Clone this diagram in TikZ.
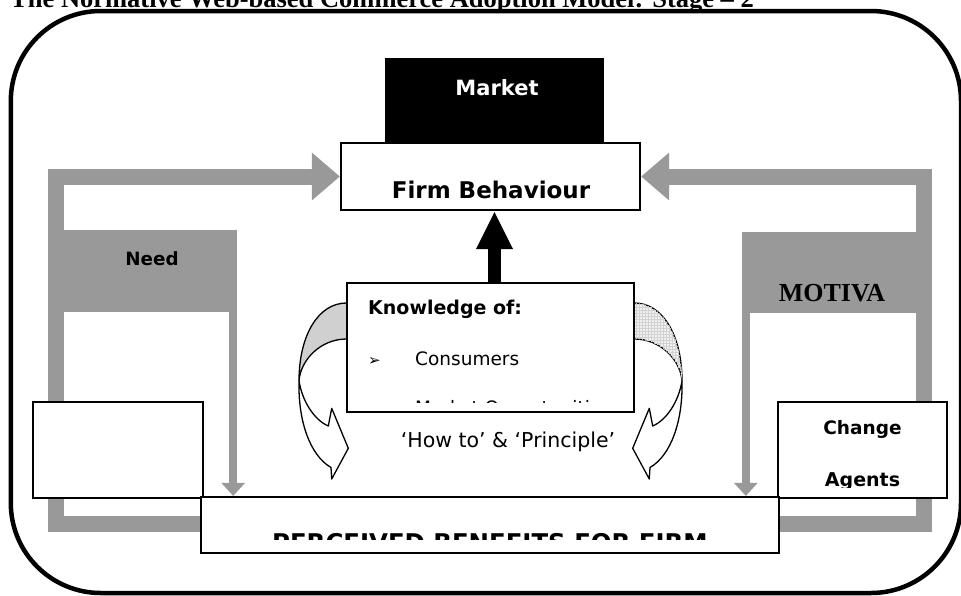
\documentclass[tikz,border=0pt]{standalone}
\usepackage{fontspec}
\setmainfont{DejaVu Sans}
\newfontfamily\titlefont{Liberation Serif}
\usetikzlibrary{arrows.meta,patterns,backgrounds}
\newcommand\pxsize[1]{\fontsize{#1}{#1}\selectfont}
\definecolor{bargray}{RGB}{153,153,153}
\definecolor{backgray}{RGB}{208,208,208}

\begin{document}
\begin{tikzpicture}[x=1pt, y=-1pt,
    box/.style={draw, line width=2.2pt, fill=white, inner sep=0pt},
    graybox/.style={fill=bargray, inner sep=0pt},
    bigbar/.style={draw=bargray, line width=16pt, -{Triangle[length=28pt,width=46pt]}},
    thinbar/.style={draw=bargray, line width=8pt, -{Triangle[length=13pt,width=23pt]}},
    blackarrow/.style={draw, line width=13pt, -{Triangle[length=38pt,width=34pt]}},
    lbl/.style={font=\bfseries\pxsize{19}, inner sep=0pt, anchor=base},
    twist/.style={draw, line width=1.3pt, line join=round},
    backL/.style={fill=backgray},
    backR/.style={fill=gray!12, postaction={pattern=grid, pattern color=gray!35}}]

    \useasboundingbox (0,0) rectangle (961,595);

    % Title
    \node[font=\titlefont\bfseries\pxsize{26.5}, anchor=base west, inner sep=0pt] (title) at (10,7)
        {The Normative Web-based Commerce Adoption Model: Stage – 2};

    % Frame
    \draw[line width=4.5pt, rounded corners=90pt] (10.8,11) rectangle (961,593);

    % Boxes
    \node[graybox, minimum width=173, minimum height=82] (need) at (150.5,271) {};
    \node[graybox, minimum width=190, minimum height=81] (motiva) at (837,272.5) {};
    \node[box, minimum width=170, minimum height=96] (blank) at (118,450) {};
    \node[box, minimum width=169, minimum height=96] (chgbox) at (862.5,450) {};
    \node[box, minimum width=578, minimum height=56] (perc) at (490,525) {};
    \node[box, line width=1.8pt, minimum width=287, minimum height=129] (know) at (490.5,347.5) {};
    \node[fill=black, inner sep=0pt, minimum width=219, minimum height=85] (mkt) at (494.5,100.5) {};
    \node[box, minimum width=299, minimum height=67] (firm) at (490.5,176.5) {};

    % Labels
    \node[lbl, text=white, font=\bfseries\pxsize{21}] (mktlbl) at (497,95) {Market};
    \node[lbl, font=\bfseries\pxsize{23}] (firmlbl) at (491,198) {Firm Behaviour};
    \node[lbl, font=\bfseries\pxsize{18.3}] (needlbl) at (152,265) {Need};
    \node[lbl, font=\titlefont\bfseries\pxsize{26}] (motlbl) at (832,301.7) {MOTIVA};
    \node[lbl, font=\pxsize{20.5}] (howto) at (508,447.5) {‘How to’ \& ‘Principle’};
    \begin{scope}
        \clip (347,283) rectangle (634,402.5);
        \node[lbl, anchor=base west] (kof) at (368,314) {Knowledge of:};
        \foreach \y/\item in {365/Consumers, 414/Market Opportunities} {
            \node[anchor=base west, inner sep=0pt, font=\pxsize{15}] (bul\y) at (368,\y) {➢};
            \node[anchor=base west, inner sep=0pt, font=\pxsize{18.5}] (item\y) at (415,\y) {\item};
        }
    \end{scope}
    \begin{scope}
        \clip (778,402) rectangle (947,487.5);
        \node[lbl, font=\bfseries\pxsize{18.5}] (chglbl) at (862.5,434) {Change};
        \node[lbl] (agtlbl) at (862.5,486.7) {Agents};
    \end{scope}
    \begin{scope}
        \clip (201,497) rectangle (779,539);
        \node[lbl, font=\bfseries\pxsize{24.4}] (perclbl) at (490,551) {PERCEIVED BENEFITS FOR FIRM};
    \end{scope}

    % Arrows
    \coordinate (needfoot) at ([xshift=-4pt]need.south east);
    \coordinate (motfoot) at ([xshift=4pt]motiva.south west);
    \draw[thinbar] (needfoot) -- (needfoot |- perc.north);
    \draw[thinbar] (motfoot) -- (motfoot |- perc.north);
    \draw[blackarrow] (know.north -| mkt.center) -- (firm.south -| mkt.center);

    \begin{scope}[on background layer]
        % gray loops
        \draw[bigbar] (perc.center |- 0,524) -- (56,524) |- (firm.west);
        \draw[bigbar] (perc.center |- 0,524) -- (924,524) |- (firm.east);
        % curved arrows
        \foreach \dir/\back in {1/backL, -1/backR} {
            \begin{scope}[shift={(490.5,0)}, xscale=\dir]
                \draw[twist, \back] (-141,303) -- (-144,303)
                    .. controls (-172,303) and (-191.5,335) .. (-191.5,381)
                    .. controls (-190,360) and (-170,339) .. (-144,339) -- (-141,339);
                \draw[twist, fill=white] (-191.5,381) .. controls (-188,402) and (-176,420) .. (-162.2,426)
                    -- (-158.8,408.3) -- (-142.2,448.3) -- (-158.8,479) -- (-159.5,467.5)
                    .. controls (-181,455) and (-192.5,420) .. cycle;
            \end{scope}
        }
    \end{scope}
\end{tikzpicture}
\end{document}
